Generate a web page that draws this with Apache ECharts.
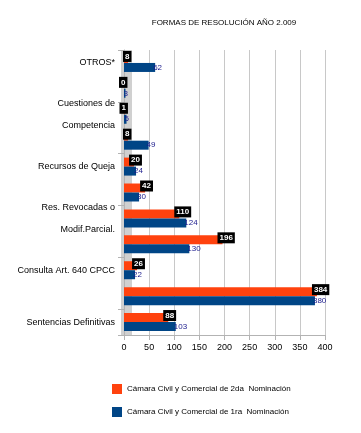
<!DOCTYPE html>
<html><head><meta charset="utf-8">
<script src="https://cdn.jsdelivr.net/npm/echarts@6/dist/echarts.min.js"></script>
<style>html,body{margin:0;padding:0;background:#fff}#c{width:361px;height:433px}</style>
</head><body><div id="c"></div>
<script>
const title = 'FORMAS DE RESOLUCIÓN AÑO 2.009';
const categories = [
  'OTROS*',
  'Apelaciones',
  'Cuestiones de\nCompetencia',
  'Regulación de Honorarios',
  'Recursos de Queja',
  'Autos Interlocutorios',
  'Res. Revocadas o\nModif.Parcial.',
  'Resoluciones Confirmadas',
  'Consulta Art. 640 CPCC',
  'Autos Definitivos',
  'Sentencias Definitivas'
];
const seriesNames = ['Cámara Civil y Comercial de 2da  Nominación', 'Cámara Civil y Comercial de 1ra  Nominación'];
const segunda = [8, 0, 1, 8, 20, 42, 110, 196, 26, 384, 88];
const primera = [62, 3, 5, 49, 24, 30, 124, 130, 22, 380, 103];
const xTicks = [0, 50, 100, 150, 200, 250, 300, 350, 400];

const chart = echarts.init(document.getElementById('c'), null, {renderer: 'canvas'});
const font = '"Liberation Sans Narrow", "Liberation Sans", Arial, sans-serif';
chart.setOption({
  animation: false,
  backgroundColor: '#fff',
  textStyle: {fontFamily: font},
  title: {
    text: title, left: 219, textAlign: 'center', top: 14,
    textStyle: {fontSize: 8, fontWeight: 'normal', color: '#000', fontFamily: font}
  },
  legend: {
    orient: 'vertical', left: 107, top: 379, itemWidth: 10, itemHeight: 10, itemGap: 13,
    icon: 'rect',
    textStyle: {fontSize: 8, color: '#000', fontFamily: font},
    data: seriesNames
  },
  grid: {left: 124, right: 36, top: 50, bottom: 98, containLabel: false},
  xAxis: {
    type: 'value', min: xTicks[0], max: xTicks[xTicks.length - 1], interval: 50,
    axisLine: {show: true, lineStyle: {color: '#b3b3b3'}},
    axisTick: {show: true, lineStyle: {color: '#b3b3b3'}},
    axisLabel: {fontSize: 9, color: '#000', margin: 8, fontFamily: font},
    splitLine: {show: true, lineStyle: {color: '#c8c8c8'}}
  },
  yAxis: {
    type: 'category', data: categories, inverse: true,
    axisLine: {show: true, lineStyle: {color: '#b3b3b3'}},
    axisTick: {show: true, lineStyle: {color: '#b3b3b3'}, length: 6},
    axisLabel: {interval: 1, fontSize: 9, color: '#000', margin: 9, lineHeight: 22, fontFamily: font}
  },
  graphic: [{
    type: 'rect', z: -1, shape: {x: 121, y: 50, width: 11, height: 285},
    style: {fill: '#d0d0d0'}
  }],
  series: [
    {
      name: seriesNames[0], type: 'bar', data: segunda, barWidth: 9, barGap: '0%',
      itemStyle: {color: '#ff420e'},
      label: {show: true, position: 'right', distance: 0, offset: [-5, -2], fontSize: 8, fontWeight: 'bold',
        color: '#fff', backgroundColor: '#000', padding: [2, 2, 1, 2], fontFamily: font}
    },
    {
      name: seriesNames[1], type: 'bar', data: primera, barWidth: 9,
      itemStyle: {color: '#004586'},
      label: {show: true, position: 'right', distance: 0, offset: [-2, 0], fontSize: 8,
        color: '#1a1a8c', fontFamily: font}
    }
  ]
});
</script></body></html>
